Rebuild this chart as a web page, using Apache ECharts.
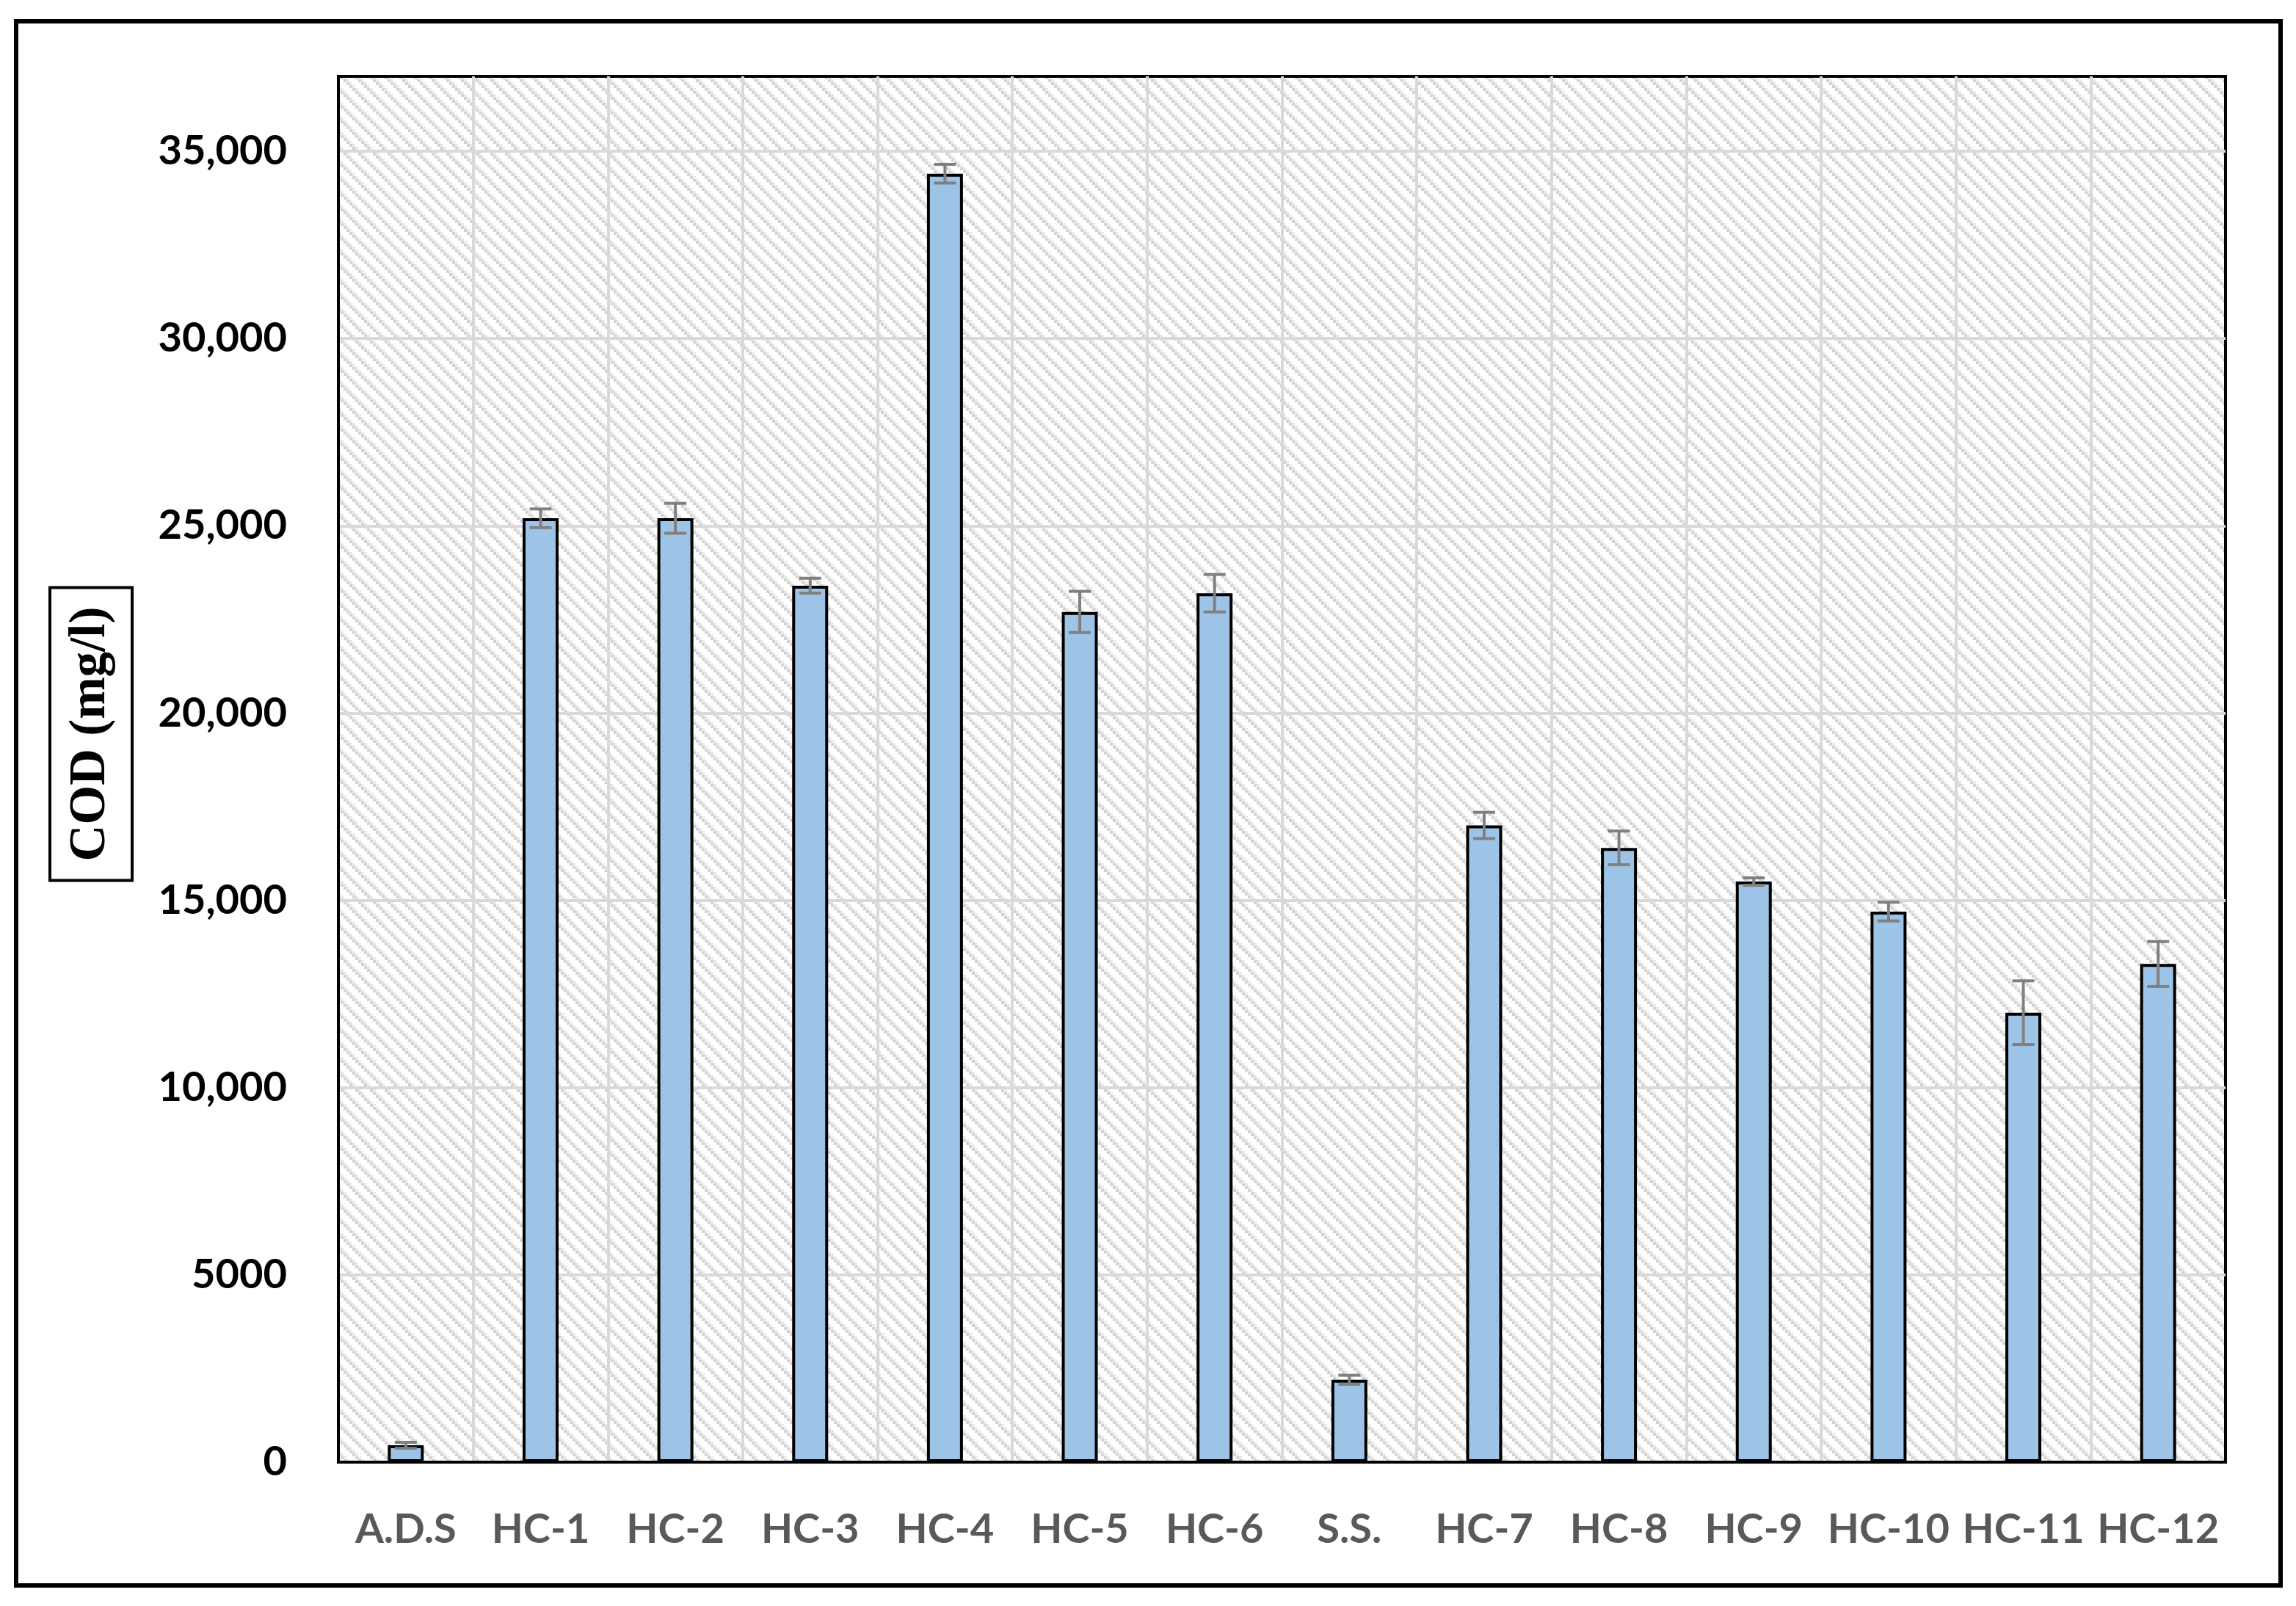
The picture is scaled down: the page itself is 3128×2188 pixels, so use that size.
<!DOCTYPE html>
<html><head><meta charset="utf-8">
<script src="https://cdn.jsdelivr.net/npm/echarts@6/dist/echarts.min.js"></script>
<style>html,body{margin:0;padding:0;background:#fff}#c{width:3128px;height:2188px}</style>
</head><body><div id="c"></div>
<script>
const categories = ['A.D.S','HC-1','HC-2','HC-3','HC-4','HC-5','HC-6','S.S.','HC-7','HC-8','HC-9','HC-10','HC-11','HC-12'];
const codValues = [450, 25200, 25200, 23400, 34400, 22700, 23200, 2200, 17000, 16400, 15500, 14700, 12000, 13300];
const codErrors = [80, 250, 400, 200, 250, 550, 500, 120, 350, 450, 100, 250, 850, 600];
const yTickValues = [0, 5000, 10000, 15000, 20000, 25000, 30000, 35000];
const yTickLabels = ['0', '5000', '10,000', '15,000', '20,000', '25,000', '30,000', '35,000'];
const yAxisName = 'COD (mg/l)';

function makePattern() {
  const c = document.createElement('canvas');
  c.width = 20; c.height = 20;
  const ctx = c.getContext('2d');
  ctx.fillStyle = '#ffffff'; ctx.fillRect(0, 0, 20, 20);
  for (let i = 0; i < 5; i++) {
    for (let j = 0; j < 5; j++) {
      const d = ((i - j) % 5 + 5) % 5;
      if (d === 0) { ctx.fillStyle = '#d4d4d4'; ctx.fillRect(i * 4, j * 4, 4, 4); }
      else if (d === 1) { ctx.fillStyle = '#ebebeb'; ctx.fillRect(i * 4, j * 4, 4, 4); }
    }
  }
  return c;
}

const chart = echarts.init(document.getElementById('c'), null, {renderer: 'canvas'});
const errData = codValues.map((v, i) => [i, v - codErrors[i], v + codErrors[i]]);

chart.setOption({
  animation: false,
  backgroundColor: '#ffffff',
  grid: {
    left: 461, right: 96, top: 104, bottom: 196,
    show: true,
    backgroundColor: {image: makePattern(), repeat: 'repeat'},
    borderColor: '#000', borderWidth: 4
  },
  graphic: [
    {
      type: 'rect', shape: {x: 22, y: 29, width: 3085, height: 2131},
      style: {fill: 'none', stroke: '#000', lineWidth: 6}, silent: true
    },
    {
      type: 'text', x: 124, y: 1000, rotation: Math.PI / 2, silent: true,
      style: {
        text: yAxisName, fill: '#000',
        font: 'bold 69px "Liberation Serif"',
        align: 'center', verticalAlign: 'middle', lineHeight: 72,
        borderColor: '#000', borderWidth: 4, padding: [20, 26, 20, 26]
      }
    }
  ],
  xAxis: {
    type: 'category', data: categories, boundaryGap: true,
    axisLine: {show: true, lineStyle: {color: '#000', width: 4}},
    axisTick: {show: false},
    axisLabel: {interval: 0, margin: 64, color: '#595959', fontFamily: 'Lato', fontWeight: 'bold', fontSize: 56},
    splitLine: {show: true, interval: 0, showMinLine: false, showMaxLine: false, lineStyle: {color: '#d9d9d9', width: 4}}
  },
  yAxis: {
    type: 'value', min: 0, max: 37000, interval: 5000,
    axisLine: {show: true, lineStyle: {color: '#000', width: 4}},
    axisTick: {show: false},
    axisLabel: {
      margin: 70, color: '#000', fontFamily: 'Lato', fontWeight: 'bold', fontSize: 56,
      formatter: function (v) { const i = yTickValues.indexOf(v); return i >= 0 ? yTickLabels[i] : ''; }
    },
    splitLine: {show: true, showMinLine: false, showMaxLine: false, lineStyle: {color: '#d9d9d9', width: 4}}
  },
  series: [
    {
      type: 'bar', data: codValues, barWidth: 49, z: 2,
      itemStyle: {color: '#9dc3e6', borderColor: '#000', borderWidth: 4}
    },
    {
      type: 'custom', data: errData, z: 5,
      encode: {x: 0, y: [1, 2]},
      renderItem: function (params, api) {
        const x = api.value(0);
        const lo = api.coord([x, api.value(1)]);
        const hi = api.coord([x, api.value(2)]);
        const hw = 15;
        const st = {stroke: '#808080', lineWidth: 4};
        return {
          type: 'group',
          children: [
            {type: 'line', shape: {x1: lo[0], y1: lo[1], x2: hi[0], y2: hi[1]}, style: st},
            {type: 'line', shape: {x1: hi[0] - hw, y1: hi[1], x2: hi[0] + hw, y2: hi[1]}, style: st},
            {type: 'line', shape: {x1: lo[0] - hw, y1: lo[1], x2: lo[0] + hw, y2: lo[1]}, style: st}
          ]
        };
      }
    }
  ]
});
</script>
</body></html>
